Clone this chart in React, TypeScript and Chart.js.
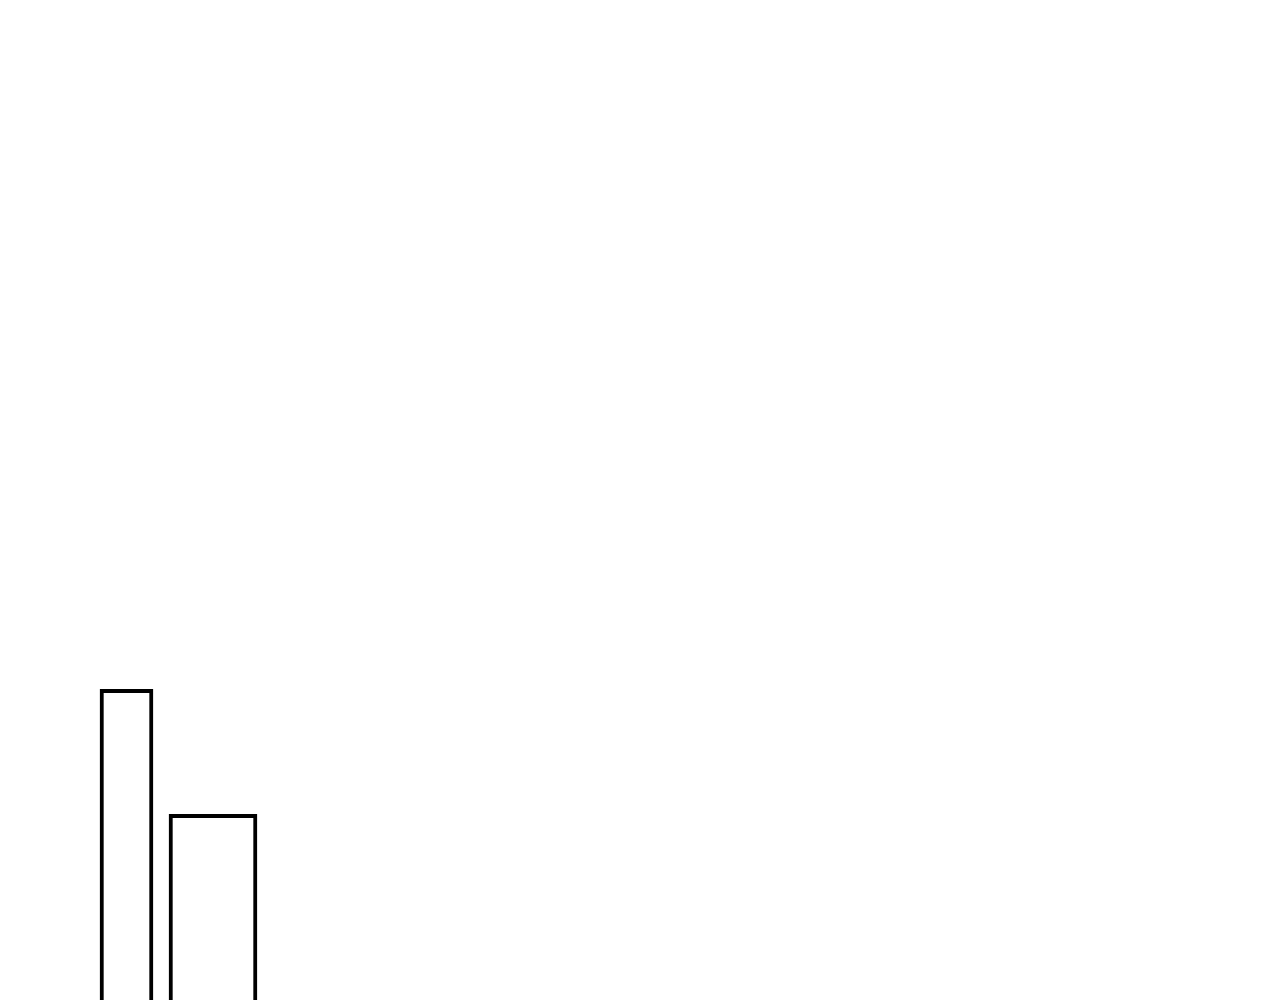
import { useEffect, useRef } from 'react'
import { Chart, registerables, type ChartConfiguration } from 'chart.js'

Chart.register(...registerables)

// two categories, one bar each; the base of the bars sits below the fold
const categories = ['A', 'B']
const firstValues = [45.5, null]
const secondValues = [null, 35.5]

const yMin = 20
const yMax = 100

export default function App() {
  const canvasRef = useRef<HTMLCanvasElement>(null)
  const chartRef = useRef<Chart | null>(null)

  useEffect(() => {
    const canvas = canvasRef.current
    if (!canvas) return

    chartRef.current?.destroy()

    const config: ChartConfiguration<'bar'> = {
      type: 'bar',
      data: {
        labels: categories,
        datasets: [
          {
            label: 'first',
            data: firstValues,
            backgroundColor: '#fff',
            borderColor: '#000',
            borderWidth: 4,
            borderSkipped: false,
            barThickness: 53,
            grouped: false,
            skipNull: true,
            clip: false,
          },
          {
            label: 'second',
            data: secondValues,
            backgroundColor: '#fff',
            borderColor: '#000',
            borderWidth: 4,
            borderSkipped: false,
            barThickness: 88,
            grouped: false,
            skipNull: true,
            // wider than its category slot, so don't clip to the chart area
            clip: false,
          },
        ],
      },
      options: {
        animation: false,
        responsive: true,
        maintainAspectRatio: false,
        // chart area: x 83.25..256.25 on the page, 86.5px per category
        layout: { padding: { left: 75.25, right: 1015.75, top: 0, bottom: 0 } },
        plugins: {
          legend: { display: false },
          tooltip: { enabled: false },
        },
        scales: {
          x: { display: false },
          y: { display: false, min: yMin, max: yMax },
        },
      },
    }

    chartRef.current = new Chart(canvas, config)

    return () => {
      chartRef.current?.destroy()
      chartRef.current = null
    }
  }, [])

  return (
    <div style={{ position: 'relative', width: 1264, height: 1000 }}>
      <canvas ref={canvasRef} />
    </div>
  )
}
